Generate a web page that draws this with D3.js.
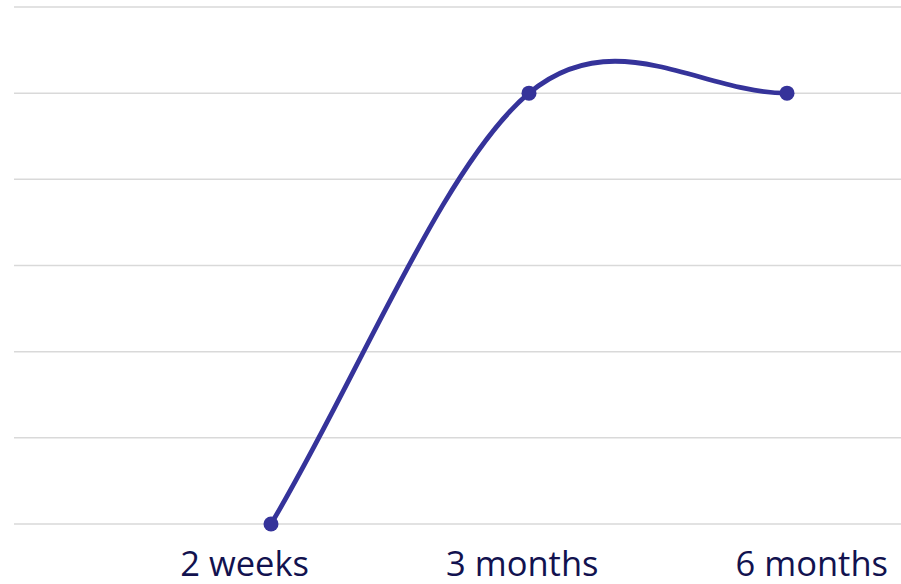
<!DOCTYPE html>
<html><head><meta charset="utf-8">
<script src="https://cdn.jsdelivr.net/npm/d3@7"></script>
<style>body{margin:0;background:#fff}svg{display:block}</style>
</head><body>
<svg id="c" width="901" height="584"></svg>
<script>
const categories = ["2 weeks", "3 months", "6 months"];
const values = [0, 5, 5];
const yTicks = [0, 1, 2, 3, 4, 5, 6];

// Excel-style smoothed line as a d3 curve factory
function curveExcel(context) {
  let pts;
  return {
    areaStart() {}, areaEnd() {},
    lineStart() { pts = []; },
    point(x, y) { pts.push([+x, +y]); },
    lineEnd() {
      const n = pts.length;
      if (!n) return;
      context.moveTo(pts[0][0], pts[0][1]);
      for (let i = 0; i < n - 1; i++) {
        const p0 = pts[i], p1 = pts[i + 1];
        let c1, c2;
        if (i === 0) c1 = [p0[0] + (p1[0] - p0[0]) / 3, p0[1] + (p1[1] - p0[1]) / 3];
        else { const pm = pts[i - 1]; c1 = [p0[0] + (p1[0] - pm[0]) / 6, p0[1] + (p1[1] - pm[1]) / 6]; }
        if (i === n - 2) c2 = [p1[0] - (p1[0] - p0[0]) / 3, p1[1] - (p1[1] - p0[1]) / 3];
        else { const pp = pts[i + 2]; c2 = [p1[0] - (pp[0] - p0[0]) / 6, p1[1] - (pp[1] - p0[1]) / 6]; }
        context.bezierCurveTo(c1[0], c1[1], c2[0], c2[1], p1[0], p1[1]);
      }
    }
  };
}

const svg = d3.select("#c");
const x = d3.scalePoint().domain(categories).range([271, 787]);
const xLab = d3.scalePoint().domain(categories).range([309, 888]);
const y = d3.scaleLinear().domain([0, 6]).range([524, 7]);

svg.append("g").selectAll("line").data(yTicks).join("line")
  .attr("x1", 14).attr("x2", 901)
  .attr("y1", d => y(d)).attr("y2", d => y(d))
  .attr("stroke", "#d9d9d9").attr("stroke-width", 1.5);

const data = categories.map((c, i) => ({c, v: values[i]}));
const line = d3.line().x(d => x(d.c)).y(d => y(d.v)).curve(curveExcel);
svg.append("path").datum(data).attr("d", line)
  .attr("fill", "none").attr("stroke", "#35339a").attr("stroke-width", 4.8)
  .attr("stroke-linecap", "round");
svg.append("g").selectAll("circle").data(data).join("circle")
  .attr("cx", d => x(d.c)).attr("cy", d => y(d.v)).attr("r", 7.5)
  .attr("fill", "#35339a");

svg.append("g").selectAll("text").data(categories).join("text")
  .attr("x", d => xLab(d)).attr("y", 576)
  .attr("text-anchor", "end")
  .attr("font-family", "'Open Sans', sans-serif").attr("font-size", 34.5)
  .attr("fill", "#12124f").text(d => d);
</script>
</body></html>
